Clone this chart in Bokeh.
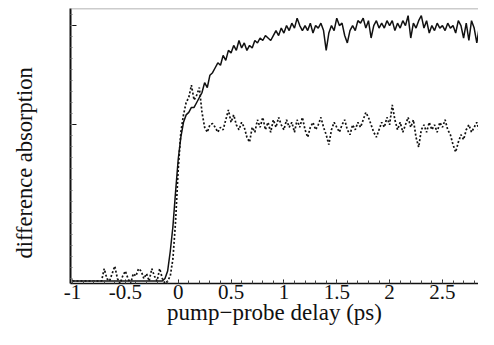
from bokeh.plotting import figure
from bokeh.models import FixedTicker, Range1d, ColumnDataSource, Span
from bokeh.embed import file_html
from bokeh.resources import INLINE
import numpy as np

# delay grid start / step (ps)
t0 = -1.0
dt = 0.025

# solid trace (one row = 0.2 ps, 8 samples)
solid = [
    0, 0, 0, 0, 0, 0, 0, 0,                                  # -1.0 .. -0.825
    0, 0, 0, 0, 0, 0, 0, 0,                                  # -0.8
    0, 0, 0, 0, 0, 0, 0, 0,                                  # -0.6
    0, 0, 0, 0, 0, 0, 0, 0,                                  # -0.4
    0, 0, 0, 0.01, 0.04, 0.12, 0.22, 0.36,                   # -0.2
    0.49, 0.58, 0.64, 0.67, 0.68, 0.70, 0.70, 0.72,          # 0.0
    0.74, 0.76, 0.80, 0.78, 0.83, 0.84, 0.86, 0.88,          # 0.2
    0.87, 0.91, 0.89, 0.93, 0.92, 0.95, 0.93, 0.97,          # 0.4
    0.94, 0.96, 0.93, 0.95, 0.94, 0.97, 0.96, 0.98,          # 0.6
    0.97, 0.99, 0.98, 0.97, 0.99, 1.01, 0.99, 1.02,          # 0.8
    1.00, 1.03, 1.01, 1.04, 1.02, 1.06, 1.03, 1.01,          # 1.0
    1.03, 1.01, 1.04, 1.00, 1.03, 1.02, 1.04, 1.01,          # 1.2
    0.93, 1.00, 1.03, 1.01, 1.06, 1.03, 1.04, 0.99,          # 1.4
    0.96, 1.01, 1.03, 1.01, 1.05, 1.04, 1.06, 1.02,          # 1.6
    1.05, 0.98, 1.03, 1.05, 1.02, 1.04, 1.02, 1.05,          # 1.8
    1.03, 1.05, 1.01, 1.04, 1.02, 1.05, 1.03, 1.07,          # 2.0
    0.98, 1.04, 1.02, 1.05, 1.07, 1.02, 1.05, 1.00,          # 2.2
    1.03, 1.01, 1.04, 1.02, 1.03, 1.01, 1.04, 1.02,          # 2.4
    1.03, 1.00, 1.05, 1.03, 0.98, 1.04, 0.97, 1.05,          # 2.6
    1.02, 0.96, 1.03, 1.01, 1.04, 1.02, 1.05, 0.98,          # 2.8
]

# dotted trace
dotted = [
    0, 0, 0, 0, 0, 0, 0, 0,                                  # -1.0
    0, 0, 0, 0, 0.05, 0.01, 0.00, 0.03,                      # -0.8
    0.06, 0.01, -0.01, 0.02, 0.04, 0.01, -0.01, 0.03,        # -0.6
    0.02, 0.05, 0.04, 0.01, 0.03, 0.00, 0.05, 0.02,          # -0.4
    0.00, 0.05, 0.01, -0.01, 0.00, 0.02, 0.09, 0.24,         # -0.2
    0.45, 0.60, 0.67, 0.72, 0.74, 0.79, 0.73, 0.75,          # 0.0
    0.78, 0.68, 0.62, 0.60, 0.63, 0.635, 0.62, 0.60,         # 0.2
    0.62, 0.61, 0.65, 0.69, 0.64, 0.67, 0.63, 0.61,          # 0.4
    0.64, 0.62, 0.58, 0.56, 0.62, 0.60, 0.65, 0.62,          # 0.6
    0.66, 0.61, 0.64, 0.60, 0.65, 0.62, 0.66, 0.63,          # 0.8
    0.61, 0.65, 0.62, 0.64, 0.60, 0.65, 0.62, 0.66,          # 1.0
    0.61, 0.58, 0.62, 0.64, 0.61, 0.63, 0.66, 0.62,          # 1.2
    0.59, 0.55, 0.61, 0.64, 0.62, 0.60, 0.63, 0.65,          # 1.4
    0.61, 0.59, 0.63, 0.61, 0.64, 0.62, 0.65, 0.68,          # 1.6
    0.66, 0.63, 0.60, 0.58, 0.61, 0.64, 0.62, 0.66,          # 1.8
    0.63, 0.71, 0.65, 0.61, 0.64, 0.60, 0.63, 0.66,          # 2.0
    0.62, 0.65, 0.58, 0.54, 0.61, 0.63, 0.60, 0.64,          # 2.2
    0.61, 0.63, 0.60, 0.64, 0.62, 0.65, 0.61, 0.59,          # 2.4
    0.55, 0.52, 0.56, 0.59, 0.57, 0.61, 0.63, 0.60,          # 2.6
    0.62, 0.64, 0.60, 0.62, 0.64, 0.62, 0.60, 0.56,          # 2.8
]

x_ticks = [-1, -0.5, 0, 0.5, 1, 1.5, 2, 2.5]
x_tick_labels = ["-1", "-0.5", "0", "0.5", "1", "1.5", "2", "2.5"]
x_minor = [round(-1 + 0.1 * k, 2) for k in range(41)]
y_ticks = [0.631, 1.03]
y_minor = [round(0.631 + 0.0444 * k, 3) for k in range(-14, 11)]

delay = np.round(t0 + dt * np.arange(len(solid)), 3)
src = ColumnDataSource(dict(x=delay, solid=solid, dotted=dotted))

Y_TOP = 1.099
p = figure(width=478, height=329,
           x_range=Range1d(-1.019, 2.841), y_range=Range1d(-0.010, Y_TOP),
           output_backend="svg", toolbar_location=None,
           min_border_left=70, min_border_right=0, min_border_top=8, min_border_bottom=46)

p.line("x", "solid", source=src, line_color="#111111", line_width=1.5)
p.line("x", "dotted", source=src, line_color="#111111", line_width=1.7, line_dash="2 2")

p.grid.visible = False
p.outline_line_color = None
p.add_layout(Span(location=Y_TOP, dimension="width", line_color="#999999", line_width=1.5))
p.background_fill_color = "white"
p.border_fill_color = "white"

xa = p.xaxis[0]
xa.ticker = FixedTicker(ticks=x_ticks, minor_ticks=x_minor)
xa.major_label_overrides = {t: l for t, l in zip(x_ticks, x_tick_labels)}
xa.major_tick_in = 4
xa.major_tick_out = 0
xa.minor_tick_in = 3
xa.minor_tick_out = 0
xa.axis_line_width = 1.5
xa.axis_line_color = "#111111"
xa.major_tick_line_color = "#111111"
xa.minor_tick_line_color = "#444444"
xa.major_label_text_font = "Liberation Serif"
xa.major_label_text_font_size = "21px"
xa.major_label_text_color = "#111111"
xa.major_label_standoff = 1
xa.axis_label = "pump\u2212probe delay (ps)"
xa.axis_label_text_font = "Liberation Serif"
xa.axis_label_text_font_size = "23px"
xa.axis_label_text_font_style = "normal"
xa.axis_label_text_color = "#111111"
xa.axis_label_standoff = -2

ya = p.yaxis[0]
ya.ticker = FixedTicker(ticks=y_ticks, minor_ticks=y_minor)
ya.major_label_overrides = {t: "" for t in y_ticks}
ya.major_tick_in = 6
ya.major_tick_out = 0
ya.minor_tick_in = 2
ya.minor_tick_out = 0
ya.axis_line_width = 2
ya.axis_line_color = "#111111"
ya.major_tick_line_color = "#111111"
ya.minor_tick_line_color = "#777777"
ya.axis_label = "difference absorption" + "\u00a0" * 6
ya.axis_label_text_font = "Liberation Serif"
ya.axis_label_text_font_size = "22.5px"
ya.axis_label_text_font_style = "normal"
ya.axis_label_text_color = "#111111"
ya.axis_label_standoff = 34

open("out.html", "w").write(file_html(p, INLINE))
